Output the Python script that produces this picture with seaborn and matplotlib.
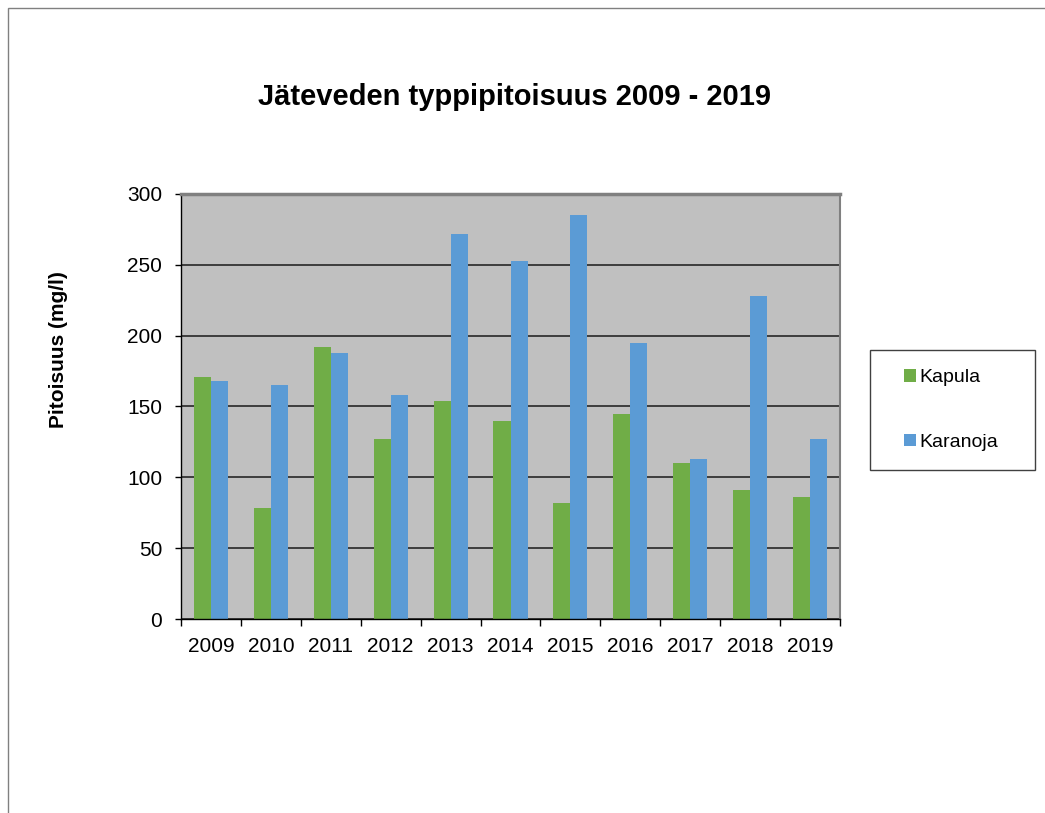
import matplotlib
import numpy as np
import pandas as pd
import seaborn as sns

matplotlib.use("Agg")
import matplotlib.pyplot as plt  # noqa: E402
from matplotlib.patches import Patch, Rectangle  # noqa: E402

YEARS = ["2009", "2010", "2011", "2012", "2013", "2014", "2015", "2016", "2017", "2018", "2019"]
KAPULA = [171, 78, 192, 127, 154, 140, 82, 145, 110, 91, 86]
KARANOJA = [168, 165, 188, 158, 272, 253, 285, 195, 113, 228, 127]
SERIES = ["Kapula", "Karanoja"]
COLORS = ["#70AD47", "#5B9BD5"]
Y_TICKS = [0, 50, 100, 150, 200, 250, 300]
TITLE = "Jäteveden typpipitoisuus 2009 - 2019"
Y_LABEL = "Pitoisuus (mg/l)"

W, H = 1045, 813

frame = pd.DataFrame(
    {
        "year": YEARS * 2,
        "series": [SERIES[0]] * len(YEARS) + [SERIES[1]] * len(YEARS),
        "value": KAPULA + KARANOJA,
    }
)

plt.rcParams["font.family"] = ["Liberation Sans", "DejaVu Sans"]

fig = plt.figure(figsize=(W / 100, H / 100), dpi=100)
ax = fig.add_axes([181 / W, 1 - 619 / H, 659 / W, 425 / H])

sns.barplot(
    data=frame, x="year", y="value", hue="series", palette=COLORS,
    width=0.57, saturation=1, linewidth=0, legend=False, ax=ax,
)

ax.set_facecolor("#C0C0C0")
ax.set_xlim(-0.5, len(YEARS) - 0.5)
ax.set_ylim(0, 300)
ax.set_yticks(Y_TICKS)
ax.yaxis.grid(True, color="#1a1a1a", lw=1.1)
ax.set_axisbelow(True)

# category boundaries carry the tick marks, like the spreadsheet original
ax.set_xticks(np.arange(-0.5, len(YEARS), 1), minor=True)
ax.tick_params(axis="x", which="major", length=0, pad=13, labelsize=15)
ax.tick_params(axis="x", which="minor", length=5, width=1, direction="out", color="black")
ax.tick_params(axis="y", length=4.5, width=1, pad=9, labelsize=15, color="black")

for side in ("left", "bottom"):
    ax.spines[side].set_color("black")
    ax.spines[side].set_linewidth(1)
ax.spines["top"].set_color("#808080")
ax.spines["top"].set_linewidth(2.5)
ax.spines["right"].set_color("#808080")
ax.spines["right"].set_linewidth(1.5)

ax.set_xlabel("")
ax.set_ylabel(Y_LABEL, fontsize=15, fontweight="bold")
ax.yaxis.set_label_coords((68 - 181) / 659, (619 - 350) / 425)

fig.text(0.492, 1 - 97 / H, TITLE, ha="center", va="center", fontsize=21, fontweight="bold")

# legend box
fig.patches.append(
    Rectangle((870 / W, 1 - 470 / H), 165 / W, 120 / H, transform=fig.transFigure,
              facecolor="white", edgecolor="#404040", lw=1, zorder=1)
)
handles = [Patch(facecolor=c, edgecolor="none") for c in COLORS]
fig.legend(
    handles, SERIES, loc="center left", bbox_to_anchor=(904 / W, 1 - 410 / H),
    frameon=False, fontsize=14, handlelength=0.6, handleheight=0.6,
    handletextpad=0.2, labelspacing=2.45, borderpad=0, borderaxespad=0,
)

# outer chart border
fig.patches.append(
    Rectangle((8 / W, -0.05), 1.1, 1 - 8 / H + 0.05, transform=fig.transFigure,
              fill=False, edgecolor="#808080", lw=1, clip_on=False)
)

fig.savefig("out.png", dpi=100, facecolor="white")
